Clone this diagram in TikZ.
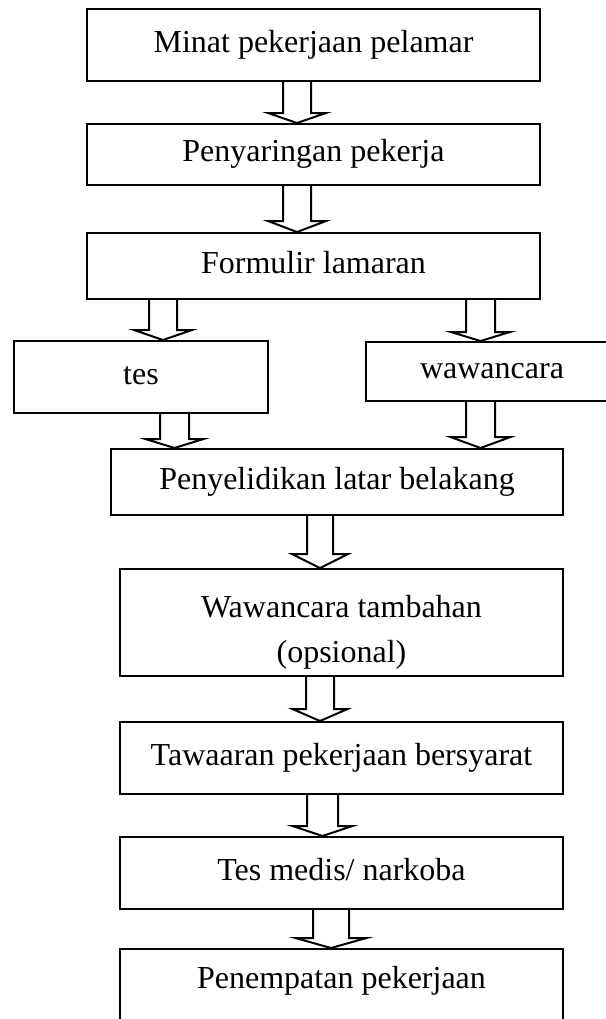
\documentclass[tikz,border=0pt]{standalone}
\usepackage{fontspec}
\setmainfont{Liberation Serif}
\usetikzlibrary{calc}

% one pixel of the layout
\newcommand{\pxu}{0.375pt}
% hollow block arrow: from, to, x of axis, half shaft, half head, head length
\newcommand{\blockarrow}[6]{%
  \draw[hollow] ($(#1.south -| #3,0)+(-#4,0)$)
    -- ($(#2.north -| #3,0)+(-#4,-#6)$) -- ++({#4-#5},0)
    -- (#2.north -| #3,0) -- ++(#5,-#6) -- ++({#4-#5},0)
    -- ($(#1.south -| #3,0)+(#4,0)$);}

\begin{document}
\begin{tikzpicture}[
  x=0.375pt, y=-0.375pt,
  line width=0.75pt,
  box/.style 2 args={draw=black, rectangle, inner sep=0pt,
    minimum width=#1*\pxu, minimum height=#2*\pxu,
    text height=8.4pt, text depth=3pt, font=\fontsize{12}{14.5}\selectfont},
  hollow/.style={draw=black, line join=miter}
]
  \useasboundingbox (0,0) rectangle (605,1019);

  % Main column
  \node[box={453}{72}] (minat) at (313.5,45) {Minat pekerjaan pelamar};
  \node[box={453}{61}] (saring) at (313.5,154.5) {Penyaringan pekerja};
  \node[box={453}{66}] (formulir) at (313.5,266) {Formulir lamaran};

  % Two branches (right box runs off the page)
  \node[box={254}{72}] (tes) at (141,377) {tes};
  \node[box={252}{59}] (wawancara) at (492,371.5) {wawancara};

  % Lower column
  \node[box={452}{66}] (selidik) at (337,482) {Penyelidikan latar belakang};
  \node[box={443}{107}, text height=20pt, text depth=7pt] (tambahan) at (341.5,622.5)
    {\begin{tabular}{c}Wawancara tambahan\\[2.4pt](opsional)\end{tabular}};
  \node[box={443}{72}] (tawaran) at (341.5,758) {Tawaaran pekerjaan bersyarat};
  \node[box={443}{72}] (medis) at (341.5,873) {Tes medis/ narkoba};
  \node[box={443}{100}, text depth=16.6pt] (tempat) at (341.5,999) {Penempatan pekerjaan};

  % --- Arrows ---
  \blockarrow{minat}{saring}{297}{14}{29}{10}
  \blockarrow{saring}{formulir}{297}{14}{29}{11}
  \blockarrow{formulir}{tes}{163}{14}{29}{10}
  \blockarrow{formulir}{wawancara}{480.5}{14.5}{29.5}{9}
  \blockarrow{tes}{selidik}{174.5}{14.5}{29}{9}
  \blockarrow{wawancara}{selidik}{480.5}{14.5}{30}{11}
  \blockarrow{selidik}{tambahan}{320}{13}{28}{14}
  \blockarrow{tambahan}{tawaran}{320}{14}{27.5}{12}
  \blockarrow{tawaran}{medis}{322.5}{15.5}{30}{10}
  \blockarrow{medis}{tempat}{331}{18}{35.5}{10}
\end{tikzpicture}
\end{document}
